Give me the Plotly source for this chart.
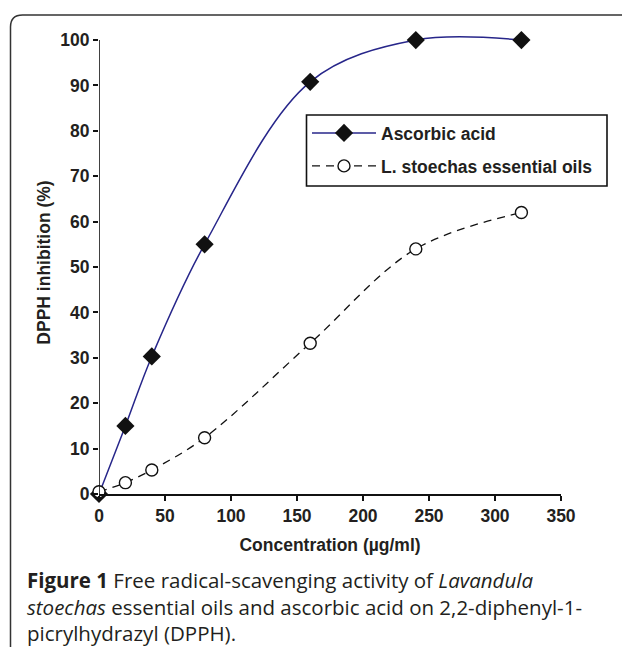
import plotly.graph_objects as go

conc = [0, 20, 40, 80, 160, 240, 320]
ascorbic = [0, 15, 30.3, 55, 90.8, 100, 100]
oils = [0.5, 2.5, 5.3, 12.4, 33.2, 54, 62]
x_ticks = [0, 50, 100, 150, 200, 250, 300, 350]
y_ticks = [0, 10, 20, 30, 40, 50, 60, 70, 80, 90, 100]

W, H = 622, 647
l, r, t, b = 99, 61, 31, 153
pw, ph = W - l - r, H - t - b

def px(xp):
    return (xp - l) / pw

def py(yp):
    return (H - b - yp) / ph

INK = "#231f20"
fig = go.Figure()
fig.add_trace(go.Scatter(
    x=conc, y=ascorbic, name="Ascorbic acid", mode="lines+markers",
    line=dict(color="#27268a", width=1.5, shape="spline", smoothing=1),
    marker=dict(symbol="diamond", size=14, color="#111111", line=dict(width=0)),
    cliponaxis=False, legend="legend"))
fig.add_trace(go.Scatter(
    x=conc, y=oils, name="L. stoechas essential oils", mode="lines+markers",
    line=dict(color="#111111", width=1.3, shape="spline", smoothing=1, dash="8px,6px"),
    marker=dict(symbol="circle", size=12, color="white", line=dict(width=1.4, color="#111111")),
    cliponaxis=False, legend="legend2"))

axis_font = dict(family="Liberation Sans, Arial", size=17.5, color=INK, weight="bold")
leg_common = dict(xanchor="left", yanchor="middle", borderwidth=0,
                  bgcolor="rgba(0,0,0,0)", itemwidth=64,
                  font=dict(family="Liberation Sans, Arial", size=17.5, color=INK, weight="bold"))
fig.update_layout(
    width=W, height=H,
    margin=dict(l=l, r=r, t=t, b=b),
    paper_bgcolor="white", plot_bgcolor="white",
    font=dict(family="Liberation Sans, Arial", color=INK),
    showlegend=True,
    legend=dict(x=px(307), y=py(133), **leg_common),
    legend2=dict(x=px(307), y=py(166), **leg_common),
    xaxis=dict(range=[0, 350], tickvals=x_ticks, showgrid=False, zeroline=False,
               showline=True, linecolor="#111111", linewidth=1.6,
               ticks="outside", ticklen=5, tickwidth=1.5, tickcolor="#111111",
               tickfont=axis_font,
               title=dict(text="Concentration (µg/ml)", font=axis_font, standoff=14)),
    yaxis=dict(range=[0, 102], tickvals=y_ticks, showgrid=False, zeroline=False,
               showline=False,
               ticks="outside", ticklen=5, tickwidth=1.5, tickcolor="#111111",
               tickfont=axis_font,
               title=dict(text="DPPH inhibition (%)", font=axis_font, standoff=5)),
)

# y axis line ending at the top tick (100)
fig.add_shape(type="line", xref="x", yref="y", x0=0, x1=0, y0=0, y1=100,
              line=dict(color="#111111", width=1.6))

# legend box
fig.add_shape(type="rect", xref="paper", yref="paper",
              x0=px(306.5), x1=px(607), y0=py(115), y1=py(186),
              line=dict(color="#111111", width=1.6), fillcolor="rgba(0,0,0,0)")

# rounded frame
x0, y0, rad = 10.5, 15, 12
path = (f"M {px(x0)} {py(H+5)} L {px(x0)} {py(y0+rad)} "
        f"Q {px(x0)} {py(y0)} {px(x0+rad)} {py(y0)} L {px(W+5)} {py(y0)}")
fig.add_shape(type="path", xref="paper", yref="paper", path=path,
              line=dict(color="#333333", width=1.5))

caption = ("<b>Figure 1</b> Free radical-scavenging activity of <i>Lavandula</i><br>"
           "<i>stoechas</i> essential oils and ascorbic acid on 2,2-diphenyl-1-<br>"
           "picrylhydrazyl (DPPH).")
fig.add_annotation(text=caption, xref="paper", yref="paper", showarrow=False,
                   x=px(25), y=py(606), xanchor="left", yanchor="middle", align="left",
                   font=dict(family="Open Sans", size=20.5, color=INK))

fig.write_html("out.html")
